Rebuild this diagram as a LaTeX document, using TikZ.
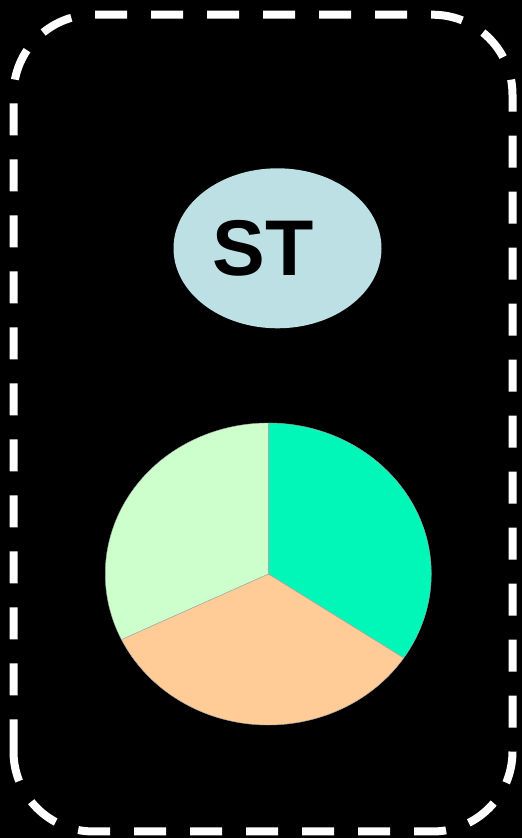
\documentclass[tikz,border=0pt]{standalone}
\usepackage{fontspec}
\usetikzlibrary{shapes.geometric}
\newfontfamily\stfont{Liberation Sans}
\definecolor{stblue}{HTML}{BCE0E4}
\definecolor{pieteal}{HTML}{00F7B7}
\definecolor{piepeach}{HTML}{FFCB96}
\definecolor{piegreen}{HTML}{CCFFCC}
\tikzset{
    frame/.style={draw=white, line width=8pt, rounded corners=80pt, dash pattern=on 32pt off 24pt},
    slice/.style={draw=gray!70, line width=0.4pt},
}
\begin{document}
\begin{tikzpicture}[x=1pt, y=1pt]
        \fill[black] (0,0) rectangle (522,838);
        \useasboundingbox (0,0) rectangle (522,838);

        \draw[frame] (13.5,6.5) rectangle (512.5,823.3);

        \node[ellipse, fill=stblue, minimum width=208pt, minimum height=160pt, inner sep=0pt,
              font=\stfont\bfseries\fontsize{79}{79}\selectfont] (st) at (277.5,589.7) {ST\kern29pt\relax};

        \coordinate (pie) at (268.3,264);
        \filldraw[slice, fill=pieteal] (pie) -- ++(90:163pt and 151pt)
            arc[start angle=90, end angle=-33.8, x radius=163pt, y radius=151pt] -- cycle;
        \filldraw[slice, fill=piepeach] (pie) -- ++(-33.8:163pt and 151pt)
            arc[start angle=-33.8, end angle=-154.3, x radius=163pt, y radius=151pt] -- cycle;
        \filldraw[slice, fill=piegreen] (pie) -- ++(205.7:163pt and 151pt)
            arc[start angle=205.7, end angle=90, x radius=163pt, y radius=151pt] -- cycle;
    \end{tikzpicture}
\end{document}
